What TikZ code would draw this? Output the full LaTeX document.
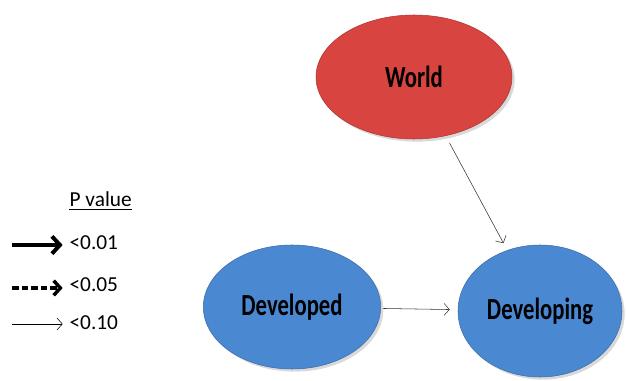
\documentclass[tikz,border=0pt]{standalone}
\usepackage{fontspec}
\setmainfont{Carlito}
\newfontfamily\narrowfont[FakeStretch=0.74]{Carlito}
\usetikzlibrary{shapes.geometric, arrows.meta, shadows}

\definecolor{worldred}{RGB}{216,68,64}
\definecolor{blobblue}{RGB}{74,136,210}

\tikzset{
	region/.style={ellipse, inner sep=0pt, font=\narrowfont\bfseries\fontsize{23}{23}\selectfont,
		drop shadow={shadow xshift=2pt, shadow yshift=-2pt, opacity=0.3}},
	legtext/.style={anchor=west, inner sep=1pt, font=\fontsize{16}{16}\selectfont},
	link/.style={-{Straight Barb[length=4pt, width=9pt]}, thin, black!80, shorten <=6pt, shorten >=6pt}
}

\begin{document}
\begin{tikzpicture}[x=0.75pt, y=-0.75pt]
	\useasboundingbox (0, 0) rectangle (626, 381);
	\node [region, fill=worldred, draw=worldred!80!black, minimum width=147pt, minimum height=93pt] (world) at (414, 77) {World};
	\node [region, fill=blobblue, draw=blobblue!80!black, minimum width=133pt, minimum height=93pt] (developed) at (292, 307) {Developed};
	\node [region, fill=blobblue, draw=blobblue!80!black, minimum width=123pt, minimum height=99pt] (developing) at (540, 311) {Developing};
	\draw [link] (world) -- (developing);
	\draw [link, shorten <=1.5pt] (developed) -- (developing);
	\node [legtext] (pval) at (68, 199) {P value};
	\draw [line width=1.2pt] ([xshift=1pt, yshift=-1pt]pval.south west) -- ([xshift=-1pt, yshift=-1pt]pval.south east);
	\node [legtext] (p01) at (68, 243) {<0.01};
	\node [legtext] (p05) at (68, 285) {<0.05};
	\node [legtext] (p10) at (68, 323) {<0.10};
	\coordinate (a01) at (12, 245);
	\coordinate (a05) at (12, 288);
	\coordinate (a10) at (12, 324);
	\draw [-{Straight Barb[length=6pt, width=13pt]}, line width=3pt, shorten >=4pt] (a01) -- (a01 -| p01.west);
	\draw [-{Straight Barb[length=5pt, width=11pt]}, line width=2.6pt, dash pattern=on 5pt off 2.2pt, shorten >=4pt] (a05) -- (a05 -| p05.west);
	\draw [-{Straight Barb[length=4pt, width=9pt]}, thin, shorten >=4pt] (a10) -- (a10 -| p10.west);
\end{tikzpicture}
\end{document}
